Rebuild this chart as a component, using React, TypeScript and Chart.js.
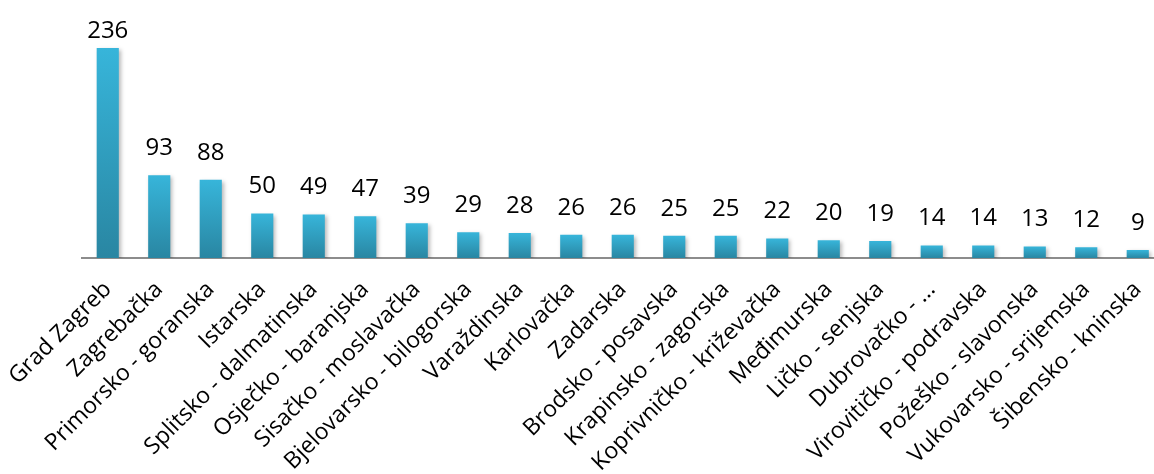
import React, { useEffect, useRef } from "react";
import { Chart, registerables } from "chart.js";

Chart.register(...registerables);

const categories = [
  "Grad Zagreb",
  "Zagrebačka",
  "Primorsko - goranska",
  "Istarska",
  "Splitsko - dalmatinska",
  "Osječko - baranjska",
  "Sisačko - moslavačka",
  "Bjelovarsko - bilogorska",
  "Varaždinska",
  "Karlovačka",
  "Zadarska",
  "Brodsko - posavska",
  "Krapinsko - zagorska",
  "Koprivničko - križevačka",
  "Međimurska",
  "Ličko - senjska",
  "Dubrovačko - ...",
  "Virovitičko - podravska",
  "Požeško - slavonska",
  "Vukovarsko - srijemska",
  "Šibensko - kninska",
];

const values = [236, 93, 88, 50, 49, 47, 39, 29, 28, 26, 26, 25, 25, 22, 20, 19, 14, 14, 13, 12, 9];

const FONT = "'Open Sans', 'DejaVu Sans', sans-serif";

export default function App() {
  const ref = useRef<HTMLCanvasElement | null>(null);

  useEffect(() => {
    const canvas = ref.current!;
    const shadowPlugin = {
      id: "barShadow",
      beforeDatasetsDraw(chart: any) {
        const ctx = chart.ctx;
        ctx.save();
        ctx.shadowColor = "rgba(0,0,0,0.28)";
        ctx.shadowBlur = 4;
        ctx.shadowOffsetX = 2;
        ctx.shadowOffsetY = 2;
      },
      afterDatasetsDraw(chart: any) {
        chart.ctx.restore();
      },
    };
    const labelPlugin = {
      id: "valueLabels",
      afterDatasetsDraw(chart: any) {
        const ctx = chart.ctx;
        const meta = chart.getDatasetMeta(0);
        ctx.save();
        ctx.font = `24px ${FONT}`;
        ctx.fillStyle = "#000";
        ctx.textAlign = "center";
        ctx.textBaseline = "bottom";
        meta.data.forEach((el: any, i: number) => {
          const y = Math.max(el.y - 15, 43);
          ctx.fillText(String(values[i]), el.x, y);
        });
        ctx.restore();
      },
    };
    const chart = new Chart(canvas, {
      type: "bar",
      data: {
        labels: categories,
        datasets: [
          {
            data: values,
            backgroundColor: (c: any) => {
              const chartObj = c.chart;
              const ys = chartObj.scales?.y;
              if (!ys || c.dataIndex === undefined) return "#33a7c9";
              const top = ys.getPixelForValue(values[c.dataIndex]);
              const base = ys.getPixelForValue(0);
              if (!isFinite(top) || !isFinite(base) || top === base) return "#33a7c9";
              const g = chartObj.ctx.createLinearGradient(0, top, 0, base);
              g.addColorStop(0, "#37b5da");
              g.addColorStop(1, "#2986a2");
              return g;
            },
            borderWidth: 0,
            barPercentage: 0.43,
            categoryPercentage: 1,
          },
        ],
      },
      options: {
        responsive: false,
        animation: false,
        events: [],
        layout: { padding: { left: 82, right: 16.5, top: 0, bottom: 0 } },
        plugins: {
          legend: { display: false },
          tooltip: { enabled: false },
          title: { display: false },
        },
        scales: {
          x: {
            offset: true,
            grid: { display: false, drawTicks: false },
            border: { display: true, color: "#8c8c8c", width: 2 },
            ticks: {
              autoSkip: false,
              maxRotation: 45,
              minRotation: 45,
              padding: 18,
              color: "#000",
              font: { family: FONT, size: 23 },
            },
            afterFit(scale: any) {
              scale.height = 216;
              scale.paddingLeft = 0;
              scale.paddingRight = 0;
            },
          },
          y: {
            display: false,
            min: 0,
            max: 290,
          },
        },
      },
      plugins: [shadowPlugin, labelPlugin],
    });
    return () => chart.destroy();
  }, []);

  return (
    <div
      style={{
        position: "absolute",
        left: 0,
        top: 0,
        width: 1154,
        height: 474,
        overflow: "hidden",
        background: "#fff",
      }}
    >
      <canvas ref={ref} width={1180} height={474} style={{ display: "block" }} />
    </div>
  );
}
